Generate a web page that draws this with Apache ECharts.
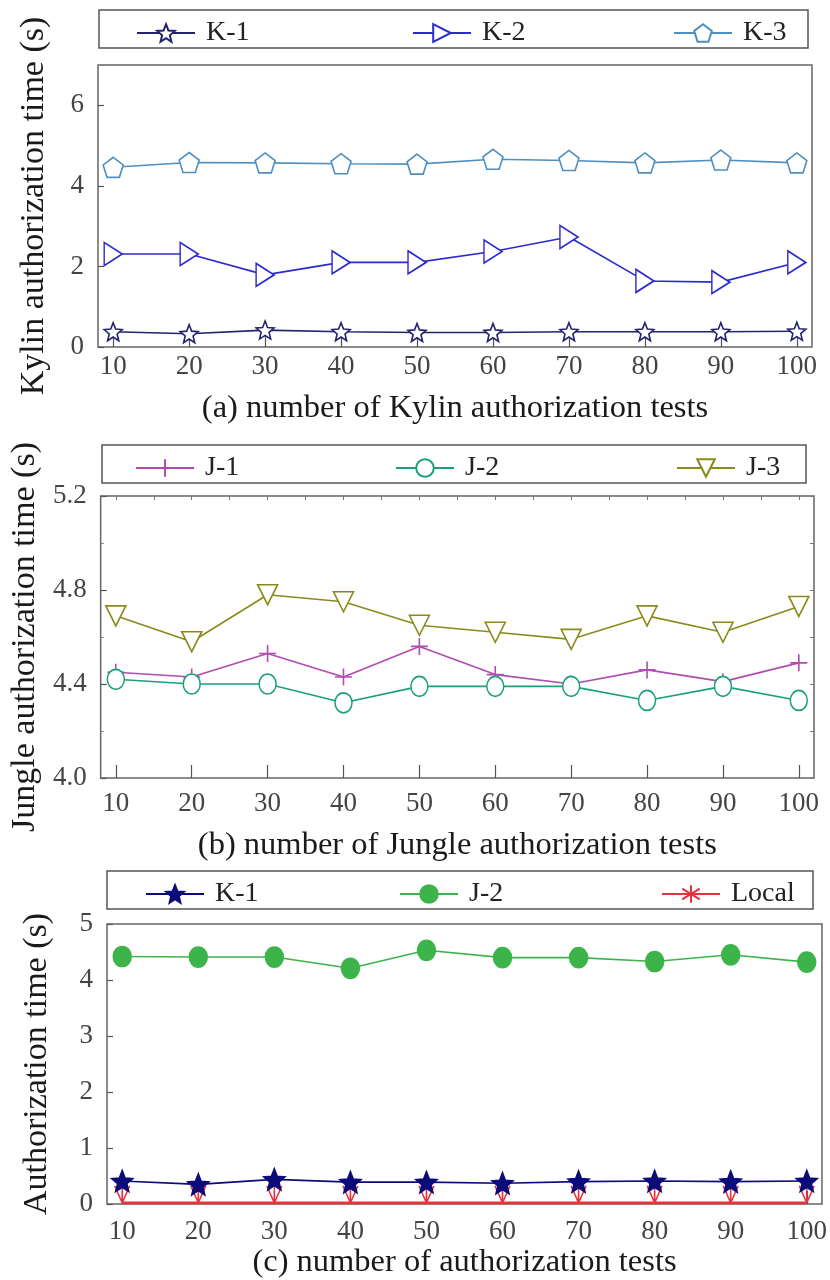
<!DOCTYPE html>
<html>
<head>
<meta charset="utf-8">
<script src="https://cdn.jsdelivr.net/npm/echarts@6.0.0/dist/echarts.min.js"></script>
<style>
  html, body { margin: 0; padding: 0; background: #fff; }
  #chart { width: 830px; height: 1280px; }
</style>
</head>
<body>
<div id="chart"></div>
<script>
// x values (number of tests)
const tests = [10, 20, 30, 40, 50, 60, 70, 80, 90, 100];
const topTicksB = [10, 15, 20, 25, 30, 35, 40, 45, 50, 55, 60, 65, 70, 75, 80, 85, 90, 95, 100];

// (a) Kylin
const kylinK1 = [0.38, 0.33, 0.42, 0.38, 0.36, 0.36, 0.38, 0.38, 0.38, 0.39];
const kylinK2 = [2.31, 2.31, 1.79, 2.10, 2.10, 2.37, 2.73, 1.64, 1.61, 2.10];
const kylinK3 = [4.46, 4.58, 4.57, 4.55, 4.54, 4.66, 4.63, 4.57, 4.64, 4.57];

// (b) Jungle
const jungleJ1 = [4.45, 4.43, 4.53, 4.43, 4.56, 4.44, 4.40, 4.46, 4.41, 4.49];
const jungleJ2 = [4.42, 4.40, 4.40, 4.32, 4.39, 4.39, 4.39, 4.33, 4.39, 4.33];
const jungleJ3 = [4.69, 4.58, 4.78, 4.75, 4.65, 4.62, 4.59, 4.69, 4.62, 4.73];

// (c) comparison
const compareK1 = [0.41, 0.35, 0.44, 0.39, 0.39, 0.37, 0.40, 0.41, 0.40, 0.41];
const compareJ2 = [4.42, 4.41, 4.41, 4.21, 4.53, 4.40, 4.40, 4.33, 4.45, 4.32];
const compareLocal = [0.02, 0.02, 0.02, 0.02, 0.02, 0.02, 0.02, 0.02, 0.02, 0.02];

const SERIF = '"Liberation Serif", "Times New Roman", serif';
const STAR = 'path://M50,0L62.93,32.2L97.55,34.55L70.92,56.8L79.39,90.45L50,72L20.61,90.45L29.08,56.8L2.45,34.55L37.07,32.2Z';
const PENTA = 'path://M50,0L97.55,34.55L79.39,90.45L20.61,90.45L2.45,34.55Z';
const TRI_RIGHT = 'path://M0,0L100,50L0,100Z';
const TRI_DOWN = 'path://M0,0L100,0L50,100Z';
const PLUS = 'path://M50,0L50,100M0,50L100,50';
const ASTER = 'path://M10,0L10,20M1,4L19,16M19,4L1,16';
const HALF_ASTER = 'path://M0,0L10,16M10,0L10,16M20,0L10,16';

function pts(ys) {
  return tests.map(function (t, i) { return [t, ys[i]]; });
}

function line(name, xi, yi, ys, color, symbol, size, fill) {
  return {
    name: name, type: 'line', xAxisIndex: xi, yAxisIndex: yi,
    data: pts(ys), symbol: symbol, symbolSize: size, showAllSymbol: true,
    lineStyle: { color: color, width: 1.6 },
    itemStyle: { color: fill, borderColor: color, borderWidth: 1.6 },
    emphasis: { disabled: true }
  };
}

function bottomX(gi, caption, labelMargin, gap) {
  return {
    gridIndex: gi, type: 'value', min: 8, max: 102,
    name: caption, nameLocation: 'middle', nameGap: gap,
    nameTextStyle: { fontFamily: SERIF, fontSize: 32.5, color: '#1a1a1a' },
    axisLine: { show: false }, splitLine: { show: false },
    axisTick: { show: true, inside: true, length: 13, customValues: tests, lineStyle: { color: '#555', width: 1.2 } },
    axisLabel: { customValues: tests, margin: labelMargin, fontFamily: SERIF, fontSize: 27, color: '#444' }
  };
}

function leftY(gi, name, min, max, interval, gap, showMax, fmt) {
  return {
    gridIndex: gi, type: 'value', min: min, max: max, interval: interval,
    name: name, nameLocation: 'middle', nameGap: gap,
    nameTextStyle: { fontFamily: SERIF, fontSize: 34, color: '#1a1a1a' },
    axisLine: { show: false }, splitLine: { show: false },
    axisTick: { show: true, inside: true, length: 6, lineStyle: { color: '#555', width: 1.2 } },
    axisLabel: { showMaxLabel: showMax, margin: 14, fontFamily: SERIF, fontSize: 27, color: '#444', formatter: fmt }
  };
}

function legendItem(name, left, top) {
  return {
    data: [name], left: left, top: top, itemWidth: 58, itemHeight: 22, itemGap: 0,
    selectedMode: false,
    formatter: function (n) { return n.split('#')[0]; },
    textStyle: { fontFamily: SERIF, fontSize: 28, color: '#222', padding: [0, 0, 0, 6] }
  };
}

function box(x, y, w, h) {
  return { type: 'rect', shape: { x: x, y: y, width: w, height: h }, style: { fill: 'none', stroke: '#555', lineWidth: 1.5 }, silent: true };
}

const gridStyle = { show: true, borderColor: '#666', borderWidth: 1.5, backgroundColor: 'transparent' };

const localSeries = line('Local', 3, 3, compareLocal, '#e8323c', ASTER, [16, 18], '#e8323c');
localSeries.data = tests.map(function (t, i) {
  return { value: [t, compareLocal[i]], symbol: HALF_ASTER, symbolSize: [15, 17], symbolOffset: [0, '-50%'] };
});
localSeries.lineStyle.width = 2.8;

const chart = echarts.init(document.getElementById('chart'), null, { renderer: 'canvas' });
chart.setOption({
  animation: false,
  backgroundColor: '#fff',
  grid: [
    Object.assign({ left: 98, top: 65, width: 714, height: 282 }, gridStyle),
    Object.assign({ left: 99, top: 496, width: 715, height: 282 }, gridStyle),
    Object.assign({ left: 107, top: 924, width: 716, height: 282 }, gridStyle)
  ],
  graphic: [box(99, 10, 709, 38), box(102, 445, 704, 38), box(107, 871, 706, 38)],
  legend: [
    legendItem('K-1', 131, 14), legendItem('K-2', 407, 14), legendItem('K-3', 668, 14),
    legendItem('J-1', 130, 449), legendItem('J-2', 390, 449), legendItem('J-3', 671, 449),
    legendItem('K-1#c', 140, 875), legendItem('J-2#c', 394, 875), legendItem('Local', 656, 875)
  ],
  xAxis: [
    bottomX(0, '(a) number of Kylin authorization tests', 6, 45),
    bottomX(1, '(b) number of Jungle authorization tests', 12, 51),
    {
      gridIndex: 1, type: 'value', position: 'top', min: 8, max: 102,
      axisLine: { show: false }, splitLine: { show: false }, axisLabel: { show: false },
      axisTick: { show: true, inside: true, length: 4, customValues: topTicksB, lineStyle: { color: '#777' } }
    },
    bottomX(2, '(c) number of authorization tests', 14, 42)
  ],
  yAxis: [
    leftY(0, 'Kylin authorization time (s)', 0, 7, 2, 47, false),
    Object.assign(leftY(1, 'Jungle authorization time (s)', 4.0, 5.2, 0.4, 54, true, function (v) { return v.toFixed(1); }),
      { minorTick: { show: true, splitNumber: 2, length: 3, lineStyle: { color: '#777' } } }),
    {
      gridIndex: 1, type: 'value', position: 'right', min: 4.0, max: 5.2, interval: 0.2,
      axisLine: { show: false }, splitLine: { show: false }, axisLabel: { show: false },
      axisTick: { show: true, inside: true, length: 4, lineStyle: { color: '#777' } }
    },
    leftY(2, 'Authorization time (s)', 0, 5, 1, 53, true)
  ],
  series: [
    line('K-1', 0, 0, kylinK1, '#23236e', STAR, 18, '#fff'),
    line('K-2', 0, 0, kylinK2, '#2b2bd0', TRI_RIGHT, [18, 23], '#fff'),
    line('K-3', 0, 0, kylinK3, '#4f8fc0', PENTA, [20, 20], '#fff'),
    line('J-1', 1, 1, jungleJ1, '#b04cb0', PLUS, 17, '#fff'),
    line('J-2', 1, 1, jungleJ2, '#1aa07c', 'circle', [17, 20], '#fff'),
    line('J-3', 1, 1, jungleJ3, '#8a8a1c', TRI_DOWN, [20, 20], '#fff'),
    localSeries,
    line('K-1#c', 3, 3, compareK1, '#0b0b7a', STAR, 21, '#0b0b7a'),
    line('J-2#c', 3, 3, compareJ2, '#3cb44a', 'circle', [18, 20], '#3cb44a')
  ]
});
</script>
</body>
</html>
